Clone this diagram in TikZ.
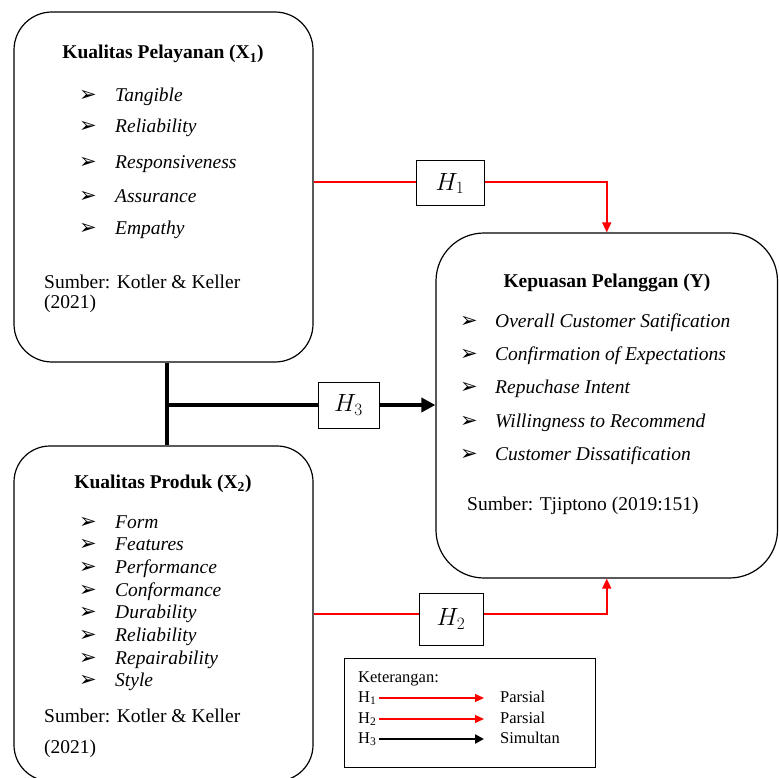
\documentclass[tikz,border=0pt]{standalone}
\usepackage{fontspec}
\setmainfont{Liberation Serif}
\newfontfamily\dejavu{DejaVu Sans}
\usetikzlibrary{arrows.meta}
\definecolor{redline}{RGB}{255,0,0}
\begin{document}
\begin{tikzpicture}[x=1pt,y=-1pt,
 rbox/.style={draw, line width=1.2pt, rectangle, rounded corners=38pt, inner sep=0pt},
 hbox/.style={draw, line width=1pt, rectangle, inner sep=0pt, font=\fontsize{23}{23}\selectfont},
 txt/.style={anchor=base west, inner sep=0pt, font=\fontsize{19.5}{20}\selectfont},
 itm/.style={anchor=base west, inner sep=0pt, font=\fontsize{19.5}{20}\selectfont\itshape},
 ttl/.style={anchor=base, inner sep=0pt, font=\fontsize{19.5}{20}\selectfont\bfseries},
 bul/.style={anchor=base west, inner sep=0pt, font=\fontsize{21}{21}\dejavu},
 legt/.style={anchor=base west, inner sep=0pt, font=\fontsize{16.5}{17}\selectfont},
 redl/.style={draw=redline, line width=1.6pt},
 redarr/.style={draw=redline, line width=1.6pt, -{Triangle[length=10pt,width=9pt]}},
 thickl/.style={draw=black, line width=4.5pt},
 thickarr/.style={draw=black, line width=4.5pt, -{Triangle[length=14pt,width=14pt]}},
 legred/.style={draw=redline, line width=1.3pt, -{Triangle[length=9pt,width=8pt]}},
 legblk/.style={draw=black, line width=2.8pt, -{Triangle[length=9pt,width=9pt]}}
]
\useasboundingbox (0,0) rectangle (779,778);
\clip (0,0) rectangle (779,778);

% main boxes
\node[rbox, minimum width=299pt, minimum height=350pt] (x1) at (163.5,187) {};
\node[rbox, rounded corners=36pt, minimum width=299pt, minimum height=335pt] (x2) at (163.5,613.5) {};
\node[rbox, rounded corners=48pt, minimum width=341.5pt, minimum height=345pt] (y) at (606.75,405.5) {};

% X1 content
\node[ttl] (t1) at (163,59) {Kualitas Pelayanan (X\textsubscript{1})};
\foreach \yy/\lab [count=\i] in {102/Tangible,133/Reliability,169/Responsiveness,203/Assurance,235/Empathy}{
  \node[bul] (b1\i) at (79,\yy) {➢};
  \node[itm] (i1\i) at (115,\yy) {\lab};
}
\node[txt] (s1a) at (44,288) {Sumber: Kotler \& Keller};
\node[txt] (s1b) at (44,308) {(2021)};

% X2 content
\node[ttl] (t2) at (163,488) {Kualitas Produk (X\textsubscript{2})};
\foreach \yy/\lab [count=\i] in {528/Form,550.7/Features,573.4/Performance,596.1/Conformance,618.8/Durability,641.5/Reliability,664.2/Repairability,686.9/Style}{
  \node[bul] (b2\i) at (79,\yy) {➢};
  \node[itm] (i2\i) at (115,\yy) {\lab};
}
\node[txt] (s2a) at (44,722) {Sumber: Kotler \& Keller};
\node[txt] (s2b) at (44,753) {(2021)};

% Y content
\node[ttl] (ty) at (607,287) {Kepuasan Pelanggan (Y)};
\foreach \yy/\lab [count=\i] in {327/Overall Customer Satification,360/Confirmation of Expectations,393/Repuchase Intent,427/Willingness to Recommend,460/Customer Dissatification}{
  \node[bul] (by\i) at (460,\yy) {➢};
  \node[itm] (iy\i) at (495,\yy) {\lab};
}
\node[txt] (sy) at (467,510) {Sumber: Tjiptono (2019:151)};

% hypothesis boxes
\node[hbox, minimum width=68pt, minimum height=45pt] (h1) at (450,183.5) {$H_1$};
\node[hbox, minimum width=64pt, minimum height=52pt] (h2) at (451,619) {$H_2$};
\node[hbox, minimum width=61pt, minimum height=46pt] (h3) at (348.5,405) {$H_3$};

% H1 connector
\coordinate (h1w) at ([yshift=1.5pt]h1.west);
\coordinate (h1e) at ([yshift=1.5pt]h1.east);
\draw[redl] (h1w -| x1.east) -- (h1w);
\draw[redarr] (h1e) -| (y.north);

% H2 connector
\coordinate (h2w) at ([yshift=5pt]h2.west);
\coordinate (h2e) at ([yshift=5pt]h2.east);
\draw[redl] (h2w -| x2.east) -- (h2w);
\draw[redarr] (h2e) -| (y.south);

% H3 connector
\coordinate (j) at (167,405);
\draw[thickl] (j |- x1.south) -- (j |- x2.north);
\draw[thickl] (j) -- (h3.west);
\draw[thickarr] (h3.east) -- (h3.east -| y.west);

% legend
\node[draw, line width=1.2pt, rectangle, inner sep=0pt, minimum width=251pt, minimum height=109pt, anchor=north west] (leg) at (344,658) {};
\node[legt] (lk) at (358,682) {Keterangan:};
\node[legt] (lh1) at (358,702) {H\textsubscript{1}};
\node[legt] (lh2) at (358,723) {H\textsubscript{2}};
\node[legt] (lh3) at (358,743) {H\textsubscript{3}};
\node[legt] (lp1) at (500,702) {Parsial};
\node[legt] (lp2) at (500,723) {Parsial};
\node[legt] (lp3) at (500,743) {Simultan};
\coordinate (la1) at (379,698);
\coordinate (lb1) at (484,698);
\coordinate (la2) at (379,719);
\coordinate (lb2) at (484,719);
\coordinate (la3) at (379,739);
\coordinate (lb3) at (484,739);
\draw[legred] (la1) -- (lb1);
\draw[legred] (la2) -- (lb2);
\draw[legblk] (la3) -- (lb3);
\end{tikzpicture}
\end{document}
